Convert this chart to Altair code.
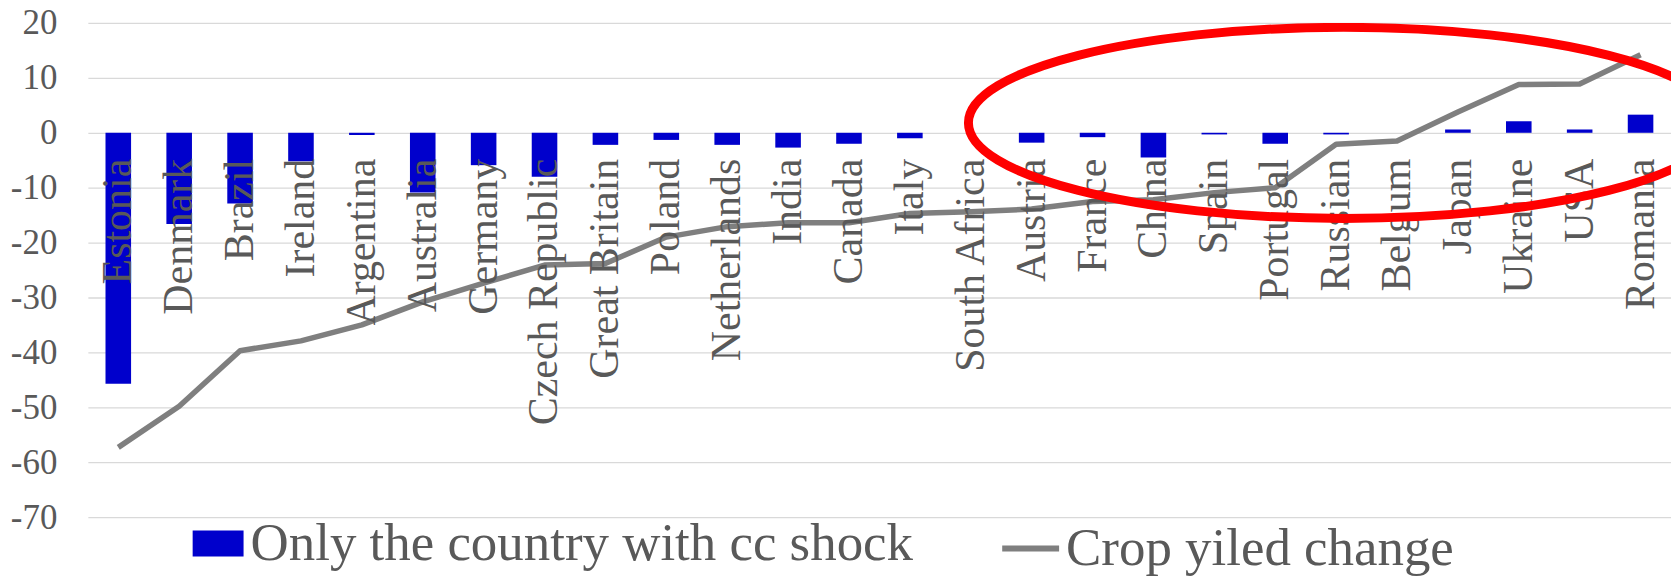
import altair as alt
import pandas as pd

# Countries, ordered by crop yield change
countries = ["Estonia", "Denmark", "Brazil", "Ireland", "Argentina", "Australia",
             "Germany", "Czech Republic", "Great Britain", "Poland", "Netherlands",
             "India", "Canada", "Italy", "South Africa", "Austria", "France", "China",
             "Spain", "Portugal", "Russian", "Belgum", "Japan", "Ukraine", "USA", "Romania"]

# Change when only the country itself gets the climate-change shock
shock_only = [-45.7, -16.6, -12.9, -5.2, -0.4, -10.9, -5.9, -8.0, -2.2, -1.3, -2.2,
              -2.7, -2.0, -1.0, 0.0, -1.8, -0.8, -4.5, -0.3, -2.0, -0.3, 0.0,
              0.6, 2.1, 0.6, 3.3]

# Crop yield change
yield_change = [-57.3, -49.8, -39.7, -37.9, -35.0, -30.8, -27.4, -24.1, -23.8, -19.0,
                -17.1, -16.4, -16.4, -14.7, -14.4, -13.9, -12.5, -12.2, -10.9, -10.0,
                -2.1, -1.5, 3.8, 8.8, 8.9, 14.2]

y_ticks = [20, 10, 0, -10, -20, -30, -40, -50, -60, -70]

BAR_NAME = "Only the country with cc shock"
LINE_NAME = "Crop yiled change"

df = pd.DataFrame({
    "country": countries,
    "shock": shock_only,
    "yield": yield_change,
    "bar_series": BAR_NAME,
    "line_series": LINE_NAME,
})

FONT = "Liberation Serif"
TEXT_GREY = "#595959"

x_enc = alt.X("country:N", sort=countries,
              scale=alt.Scale(paddingInner=0, paddingOuter=0),
              axis=None)
y_scale = alt.Scale(domain=[-70, 20], nice=False, zero=False)

bars = alt.Chart(df).mark_bar(width={"band": 0.42}).encode(
    x=x_enc,
    y=alt.Y("shock:Q", scale=y_scale,
            axis=alt.Axis(values=y_ticks, title=None, domain=False, ticks=False,
                          grid=True, gridColor="#D9D9D9", gridWidth=1.3,
                          labelExpr="'' + datum.value",
                          labelFont=FONT, labelFontSize=35, labelColor=TEXT_GREY,
                          labelPadding=31)),
    color=alt.Color("bar_series:N",
                    scale=alt.Scale(domain=[BAR_NAME], range=["#0000CC"]),
                    legend=alt.Legend(orient="none", legendX=104, legendY=495,
                                      title=None, padding=0,
                                      symbolType="M-1,-0.51H1V0.51H-1Z",
                                      symbolSize=2601, symbolStrokeWidth=0,
                                      labelFont=FONT, labelFontSize=53,
                                      labelColor=TEXT_GREY, labelOffset=6,
                                      labelLimit=1000)),
)

line = alt.Chart(df).mark_line(strokeWidth=5.5, strokeJoin="round").encode(
    x=x_enc,
    y=alt.Y("yield:Q", scale=y_scale),
    color=alt.Color("line_series:N",
                    scale=alt.Scale(domain=[LINE_NAME], range=["#7F7F7F"]),
                    legend=alt.Legend(orient="none", legendX=913, legendY=495,
                                      title=None, padding=0,
                                      symbolType="stroke", symbolSize=3249,
                                      symbolStrokeWidth=6,
                                      labelFont=FONT, labelFontSize=53,
                                      labelColor=TEXT_GREY, labelOffset=4,
                                      labelLimit=1000)),
)

# Category labels hang just below the zero line, reading bottom to top
labels = alt.Chart(df).mark_text(
    angle=270, align="right", baseline="middle", dx=-26,
    font=FONT, fontSize=42, color=TEXT_GREY,
).encode(
    x=x_enc,
    y=alt.Y("zero:Q", scale=y_scale),
    text="country:N",
).transform_calculate(zero="0")

# Red highlight ring around the countries that gain
ring = alt.Chart(df).transform_filter(
    alt.datum.country == "Russian"
).mark_point(
    shape="M-1,0A1,0.2546,0,1,0,1,0A1,0.2546,0,1,0,-1,0Z",
    size=565000, filled=False, stroke="#FF0000", strokeWidth=9,
    opacity=1, clip=True,
).encode(
    x=x_enc,
    xOffset=alt.value(38),
    y=alt.Y("ring_y:Q", scale=y_scale),
).transform_calculate(ring_y="1.8")

chart = alt.layer(bars, line, labels, ring).resolve_scale(
    color="independent"
).resolve_legend(
    color="independent"
).properties(
    width=1586, height=495,
    autosize=alt.AutoSizeParams(type="none"),
    padding={"left": 88, "top": 22.5, "right": 0, "bottom": 59.5},
    background="white",
).configure_view(stroke=None)

chart.save("out.html", embed_options={"renderer": "svg", "actions": False})
